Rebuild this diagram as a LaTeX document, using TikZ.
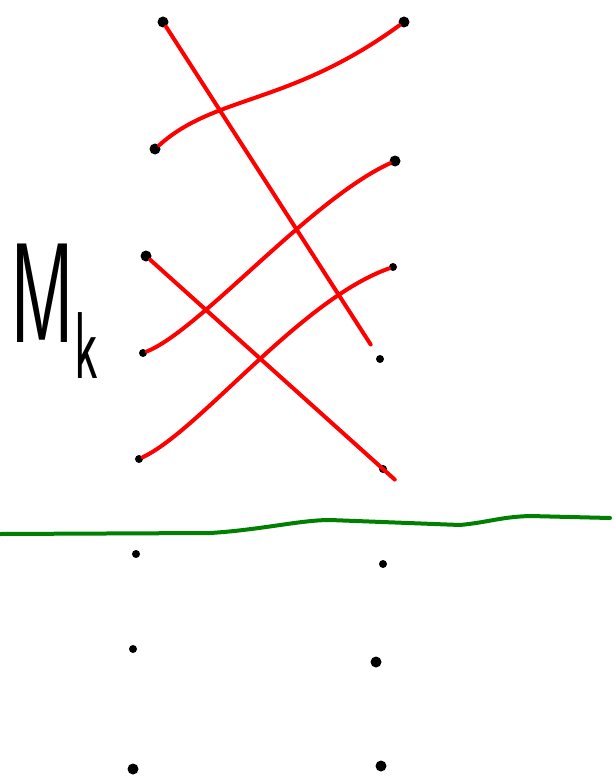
\documentclass[tikz,border=0pt]{standalone}
\usepackage{tikz}
\usepackage{xcolor}
\definecolor{inkred}{rgb}{1,0,0}
\definecolor{inkgreen}{rgb}{0,0.5,0}

\begin{document}
\begin{tikzpicture}[x=1pt, y=-1pt,
  dot/.style={circle, fill=black, inner sep=0pt, minimum size=11pt},
  smalldot/.style={circle, fill=black, inner sep=0pt, minimum size=8pt},
  redline/.style={draw=inkred, line width=4pt, line cap=round},
  greenline/.style={draw=inkgreen, line width=4pt, line cap=round}
]
\useasboundingbox (0,0) rectangle (614,781);

% upper left column
\node[dot] (l1) at (163,22) {};
\node[dot] (l2) at (155,149) {};
\node[dot] (l3) at (146,256) {};
\node[smalldot] (l4) at (143,353) {};
\node[smalldot] (l5) at (139,459) {};
% upper right column
\node[dot] (r1) at (404,22) {};
\node[dot] (r2) at (395,161) {};
\node[smalldot] (r3) at (393,267) {};
\node[smalldot] (r4) at (380,359) {};
\node[smalldot] (r5) at (383,469) {};

% lower columns
\node[smalldot] (lb1) at (136,554) {};
\node[smalldot] (lb2) at (133,649) {};
\node[dot] (lb3) at (133,769) {};
\node[smalldot] (rb1) at (383,564) {};
\node[dot] (rb2) at (376,662) {};
\node[dot] (rb3) at (381,766) {};

\node[anchor=base west, inner sep=0pt] (mk) at (10,342)
  {\sffamily\fontsize{142}{142}\selectfont\scalebox{0.55}[1]{M\kern0pt\raisebox{-36pt}{\fontsize{95}{95}\selectfont k}}};

% the matching
\draw[redline, shorten >=13pt] (l1) -- (r4);
\draw[redline] (l2) .. controls (215,95) and (290,105) .. (r1);
\draw[redline, shorten >=-20pt] (l3) -- (r5);
\draw[redline] (l4) .. controls (200,330) and (310,200) .. (r2);
\draw[redline] (l5) .. controls (200,430) and (300,300) .. (r3);

% separator
\coordinate (gl) at (0,534);
\coordinate (gr) at (610,518);
\draw[greenline] (gl) -- (210,533) .. controls (260,530) and (300,520) .. (330,520)
  -- (460,525) .. controls (490,522) and (500,517) .. (530,516) -- (gr);
\end{tikzpicture}
\end{document}
